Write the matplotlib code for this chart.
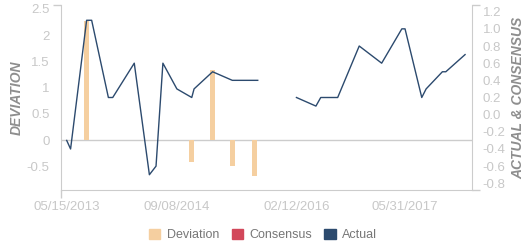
import numpy as np
import pandas as pd
import matplotlib
matplotlib.use("Agg")
import matplotlib.pyplot as plt
from matplotlib.patches import Patch

plt.rcParams['font.family'] = ['Liberation Sans', 'DejaVu Sans']

# Actual (right axis)
actual_dates = ["2013-05-15", "2013-06-01", "2013-08-10", "2013-09-01", "2013-11-13",
                "2013-12-02", "2014-03-06", "2014-05-11", "2014-06-09", "2014-07-09",
                "2014-09-08", "2014-11-12", "2014-11-22", "2015-02-11", "2015-05-08",
                "2015-08-27", "2015-11-20", "2016-02-12", "2016-05-07", "2016-05-28",
                "2016-08-10", "2016-11-12", "2017-02-18", "2017-05-17", "2017-05-31",
                "2017-08-12", "2017-08-31", "2017-11-10", "2017-11-25", "2018-02-17"]
actual = [-0.3, -0.4, 1.1, 1.1, 0.2, 0.2, 0.6, -0.7, -0.6, 0.6,
          0.3, 0.2, 0.3, 0.5, 0.4, 0.4, np.nan, 0.2, 0.1, 0.2,
          0.2, 0.8, 0.6, 1.0, 1.0, 0.2, 0.3, 0.5, 0.5, 0.7]

# Deviation (left axis)
dev_dates = ["2013-08-10", "2014-11-12", "2015-02-11", "2015-05-08", "2015-08-13"]
deviation = [2.28, -0.42, 1.33, -0.5, -0.68]

label_dates = ["2013-05-15", "2014-09-08", "2016-02-12", "2017-05-31"]

c_dev = "#f5cfa0"
c_con = "#d2475a"
c_act = "#2c4a6e"
c_axis = "#cccccc"
c_tick = "#c8c8c8"
c_title = "#8e8e8e"

fig = plt.figure(figsize=(5.31, 2.5), dpi=100)
ax = fig.add_axes([60.5 / 531, 1 - 190 / 250, (471.7 - 60.5) / 531, 185 / 250])
ax2 = ax.twinx()

xd = pd.to_datetime(dev_dates)
ax.bar(xd, deviation, width=22, color=c_dev, zorder=2)
ax.axhline(0, color=c_axis, lw=1, zorder=1)
ax2.plot(pd.to_datetime(actual_dates), actual, color=c_act, lw=1.0, zorder=3)

x0, x1 = pd.Timestamp("2013-04-18"), pd.Timestamp("2018-03-18")
ax.set_xlim(x0, x1)
ax.set_ylim(-0.954, 2.576)
ax2.set_ylim(-0.878, 1.278)

ax.set_yticks([-0.5, 0, 0.5, 1, 1.5, 2, 2.5])
ax.set_yticklabels(["-0.5", "0", "0.5", "1", "1.5", "2", "2.5"])
r_ticks = [-0.8, -0.6, -0.4, -0.2, 0.0, 0.2, 0.4, 0.6, 0.8, 1.0, 1.2]
ax2.set_yticks(r_ticks)
ax2.set_yticklabels([f"{v:.1f}" for v in r_ticks])
ld = pd.to_datetime(label_dates)
ax.set_xticks(ld)
ax.set_xticklabels([d.strftime("%m/%d/%Y") for d in ld])

# small end ticks like the original
ax.set_xticks([x0], minor=True)
ax.set_yticks([2.576], minor=True)
ax2.set_yticks([-0.878, 1.278], minor=True)

for a in (ax, ax2):
    a.tick_params(axis='both', which='major', length=0, labelsize=9.5,
                  labelcolor=c_tick, pad=8)
    a.tick_params(axis='both', which='minor', length=6, width=1, color=c_axis)
    a.spines['top'].set_visible(False)
    for s in ('left', 'right', 'bottom'):
        a.spines[s].set_color(c_axis)
ax.spines['right'].set_visible(False)
ax2.spines['left'].set_visible(False)
ax2.spines['bottom'].set_visible(False)

ax.set_ylabel("DEVIATION", fontsize=10, fontweight='bold', style='italic',
              color=c_title, labelpad=2)
ax2.set_ylabel("ACTUAL & CONSENSUS", fontsize=10, fontweight='bold', style='italic',
               color=c_title, labelpad=4)

handles = [Patch(color=c_dev, label="Deviation"),
           Patch(color=c_con, label="Consensus"),
           Patch(color=c_act, label="Actual")]
fig.legend(handles=handles, loc='center', bbox_to_anchor=(263 / 531, 1 - 235 / 250),
           ncol=3, frameon=False, fontsize=9, labelcolor="#777777",
           handlelength=0.9, handleheight=0.9, handletextpad=0.5, columnspacing=1.0)

fig.savefig("out.png", dpi=100)
